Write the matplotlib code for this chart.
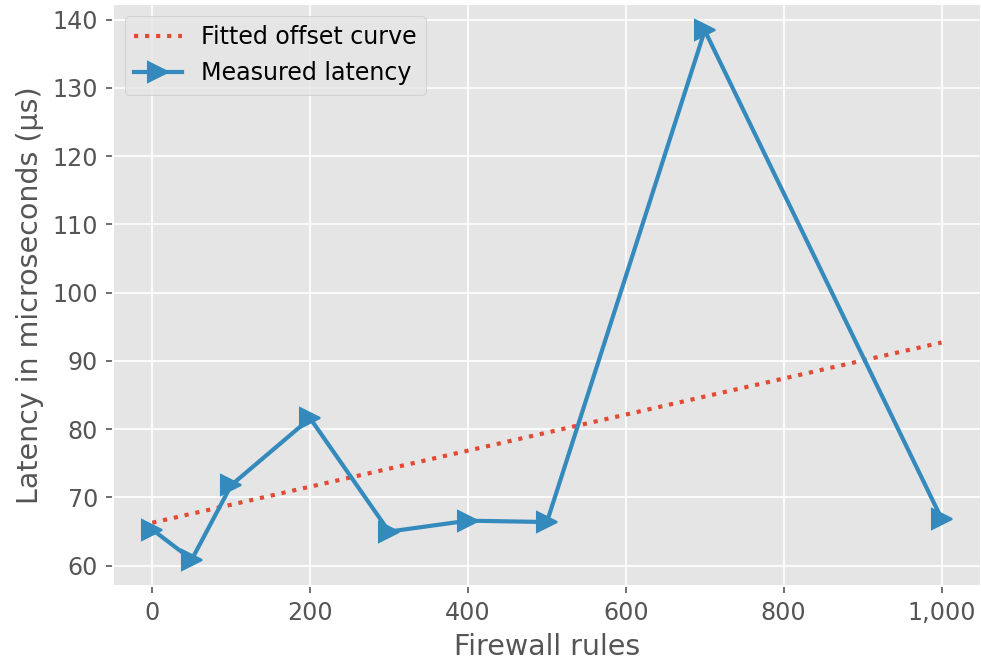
import numpy as np
import matplotlib
matplotlib.use("Agg")
import matplotlib.pyplot as plt
from matplotlib.ticker import FuncFormatter

plt.style.use("ggplot")
plt.rcParams["font.size"] = 11.4

# firewall rule counts and measured latency (µs)
rules = [0, 50, 100, 200, 300, 400, 500, 700, 1000]
latency = [65.3, 60.9, 71.8, 81.6, 65.0, 66.6, 66.4, 138.4, 66.9]

# fitted offset line, evaluated at the ends of the range
fit_rules = [0, 1000]
fit_latency = [66.3, 92.7]

fig, ax = plt.subplots(figsize=(6.54, 4.46), dpi=150)
fig.subplots_adjust(left=0.115, right=1.0, top=0.994, bottom=0.124)

ax.plot(fit_rules, fit_latency, ls=":", lw=2, c="#E24A33", label="Fitted offset curve")
ax.plot(rules, latency, marker=">", ms=10, lw=2, c="#348ABD", label="Measured latency")

ax.xaxis.set_major_formatter(FuncFormatter(lambda v, p: f"{int(v):,}"))
ax.set_yticks(np.arange(60, 141, 10))
ax.set_xlabel("Firewall rules")
ax.set_ylabel("Latency in microseconds (µs)")
ax.legend(loc="upper left")

fig.savefig("out.png")
